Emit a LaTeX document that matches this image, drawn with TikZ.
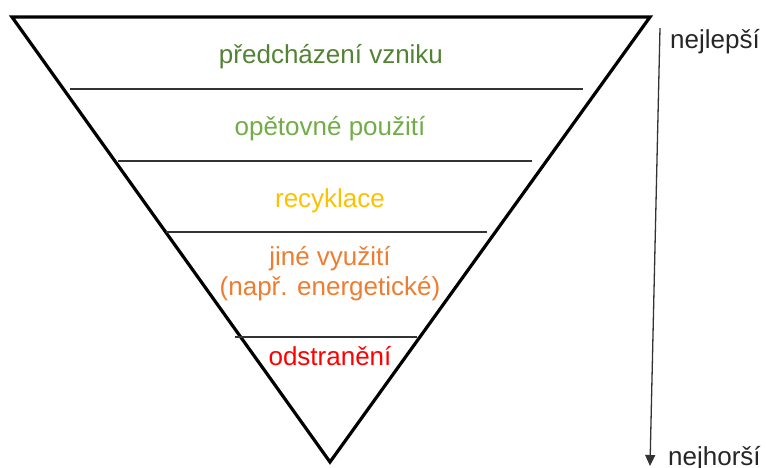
\documentclass[tikz,border=0pt]{standalone}
\usepackage{fontspec}
\setmainfont{Liberation Sans}
\usetikzlibrary{arrows.meta}
\definecolor{cdarkgreen}{HTML}{548235}
\definecolor{clightgreen}{HTML}{70AD47}
\definecolor{cgold}{HTML}{FFC000}
\definecolor{corange}{HTML}{ED7D31}
\definecolor{cred}{HTML}{FF0000}
\tikzset{
  tri/.style={line width=3.2pt, line join=miter, draw=black},
  sep/.style={line width=1.4pt, draw=black!80},
  lbl/.style={font=\fontsize{26}{30}\selectfont, anchor=base, inner sep=0pt},
  side/.style={font=\fontsize{26}{30}\selectfont, anchor=base west, inner sep=0pt, text=black!85},
  rankarrow/.style={line width=1.3pt, draw=black!80, -{Triangle[length=11pt,width=10pt]}}
}
\begin{document}
\begin{tikzpicture}[x=1pt,y=-1pt]
\useasboundingbox (0,0) rectangle (766,467);
% triangle
\coordinate (tl) at (12,17);
\coordinate (tr) at (650,17);
\coordinate (tip) at (330,462);
\draw[tri] (tl) -- (tr) -- (tip) -- cycle;
% separators
\coordinate (s1a) at (70,89);  \coordinate (s1b) at (583,89);
\coordinate (s2a) at (118,161); \coordinate (s2b) at (532,161);
\coordinate (s3a) at (166,232); \coordinate (s3b) at (487,232);
\coordinate (s4a) at (235,337); \coordinate (s4b) at (417,337);
\draw[sep] (s1a) -- (s1b);
\draw[sep] (s2a) -- (s2b);
\draw[sep] (s3a) -- (s3b);
\draw[sep] (s4a) -- (s4b);
% labels
\node[lbl, text=cdarkgreen] (t1) at (331,63) {předcházení vzniku};
\node[lbl, text=clightgreen] (t2) at (330,135) {opětovné použití};
\node[lbl, text=cgold] (t3) at (330,207) {recyklace};
\node[lbl, text=corange] (t4) at (330,265) {jiné využití};
\node[lbl, text=corange] (t5) at (330,295) {(např. energetické)};
\node[lbl, text=cred] (t6) at (330,365) {odstranění};
% rank arrow
\coordinate (atop) at (660,28);
\coordinate (abot) at (650,466);
\draw[rankarrow] (atop) -- (abot);
\node[side] (best) at (670,48) {nejlepší};
\node[side] (worst) at (668,465) {nejhorší};
\end{tikzpicture}
\end{document}
